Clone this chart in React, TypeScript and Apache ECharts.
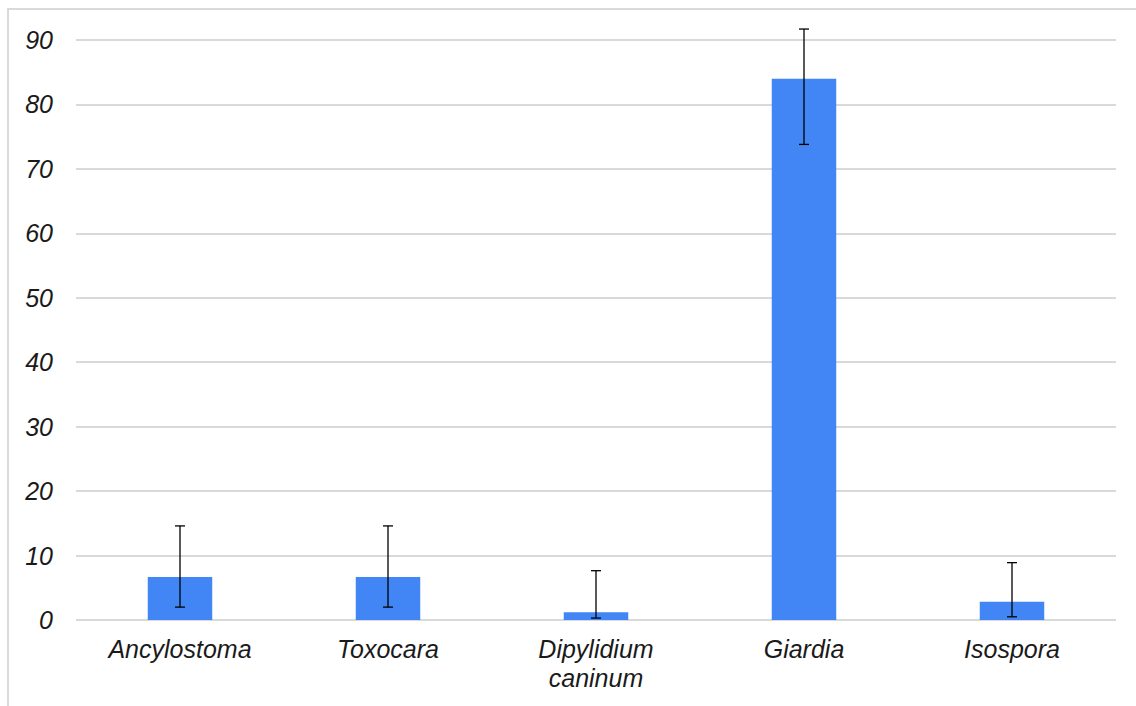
import React, { useEffect, useRef } from "react";
import * as echarts from "echarts";

const categories = ["Ancylostoma", "Toxocara", "Dipylidium\ncaninum", "Giardia", "Isospora"];
const values = [6.67, 6.67, 1.2, 84.0, 2.85];
const errLow = [2.0, 2.0, 0.3, 73.8, 0.5];
const errHigh = [14.6, 14.6, 7.65, 91.7, 8.9];
const yTicks = [0, 10, 20, 30, 40, 50, 60, 70, 80, 90];

export default function App() {
  const ref = useRef<HTMLDivElement>(null);
  useEffect(() => {
    const chart = echarts.init(ref.current!, null, { renderer: "svg" });
    const font = "'Liberation Sans', Arial, sans-serif";
    chart.setOption({
      animation: false,
      backgroundColor: "#ffffff",
      grid: { left: 76, right: 20, top: 40, bottom: 86, containLabel: false },
      graphic: [
        {
          type: "rect",
          shape: { x: 8, y: 9, width: 1160, height: 740 },
          style: { fill: "none", stroke: "#d9d9d9", lineWidth: 2 },
          silent: true,
          z: -1,
        },
      ],
      xAxis: {
        type: "category",
        data: categories,
        axisLine: { show: false },
        axisTick: { show: false },
        axisLabel: {
          interval: 0,
          margin: 14,
          color: "#1a1a1a",
          fontSize: 25,
          fontStyle: "italic",
          fontFamily: font,
          lineHeight: 29,
        },
      },
      yAxis: {
        type: "value",
        min: yTicks[0],
        max: yTicks[yTicks.length - 1],
        interval: 10,
        axisLine: { show: false },
        axisTick: { show: false },
        splitLine: { lineStyle: { color: "#d9d9d9", width: 2 } },
        axisLabel: {
          margin: 23,
          color: "#1a1a1a",
          fontSize: 25,
          fontStyle: "italic",
          fontFamily: font,
        },
      },
      series: [
        {
          type: "bar",
          data: values,
          barWidth: "31%",
          itemStyle: { color: "#4285f4" },
          z: 2,
        },
        {
          type: "custom",
          data: categories.map((_, i) => [i, errLow[i], errHigh[i]]),
          z: 3,
          renderItem: (params: any, api: any) => {
            const i = api.value(0);
            const lo = api.coord([i, api.value(1)]);
            const hi = api.coord([i, api.value(2)]);
            const cap = 5;
            const style = { stroke: "#000000", lineWidth: 1.3 };
            return {
              type: "group",
              children: [
                { type: "line", shape: { x1: lo[0], y1: lo[1], x2: hi[0], y2: hi[1] }, style },
                { type: "line", shape: { x1: hi[0] - cap, y1: hi[1], x2: hi[0] + cap, y2: hi[1] }, style },
                { type: "line", shape: { x1: lo[0] - cap, y1: lo[1], x2: lo[0] + cap, y2: lo[1] }, style },
              ],
            };
          },
        },
      ],
    });
    return () => chart.dispose();
  }, []);
  return (
    <div
      ref={ref}
      style={{ position: "fixed", left: 0, top: 0, width: 1136, height: 706 }}
    />
  );
}
